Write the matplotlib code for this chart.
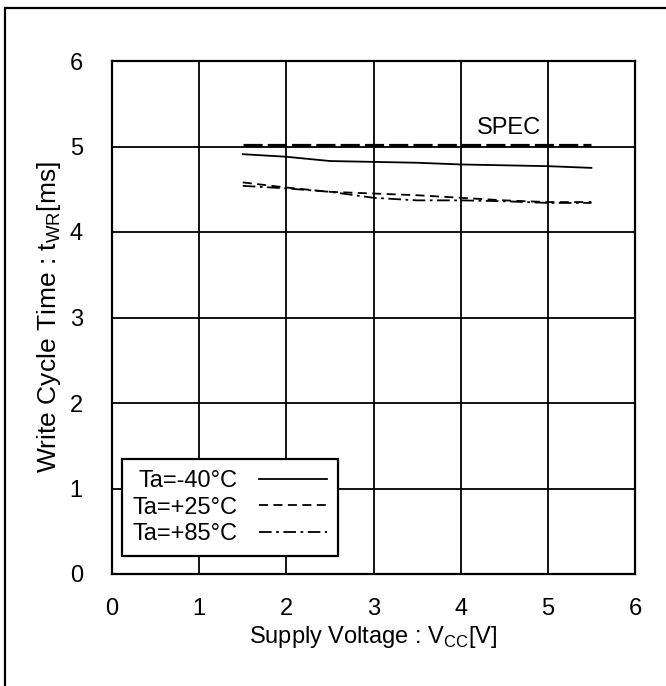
import numpy as np
import matplotlib.pyplot as plt
from matplotlib.patches import Rectangle

plt.rcParams['font.family'] = ['Liberation Sans', 'DejaVu Sans']
plt.rcParams['mathtext.fontset'] = 'custom'
plt.rcParams['mathtext.rm'] = 'Liberation Sans'

# ----------------------------
# Data
# ----------------------------
vcc = [1.5, 2.0, 2.5, 3.0, 3.5, 4.0, 4.5, 5.0, 5.5]
t_m40 = [4.91, 4.88, 4.83, 4.82, 4.81, 4.79, 4.78, 4.77, 4.75]
t_p25 = [4.58, 4.52, 4.47, 4.45, 4.43, 4.40, 4.37, 4.35, 4.35]
t_p85 = [4.54, 4.51, 4.47, 4.40, 4.37, 4.37, 4.36, 4.34, 4.34]
spec_x = [1.5, 5.5]
spec_y = [5.02, 5.02]
labels = ["Ta=-40°C", "Ta=+25°C", "Ta=+85°C"]
ticks = [0, 1, 2, 3, 4, 5, 6]

# ----------------------------
# Figure
# ----------------------------
fig = plt.figure(figsize=(6.66, 6.86), dpi=100)
# outer frame, cut off on the right and bottom
fig.patches.append(Rectangle((5 / 666, -0.05), 1.1, (686 - 8) / 686 + 0.05,
                             transform=fig.transFigure, fill=False,
                             edgecolor="black", linewidth=1.6))

ax = fig.add_axes([112 / 666, (686 - 574) / 686, (635 - 112) / 666, (574 - 61) / 686])

ax.plot(spec_x, spec_y, color="black", linestyle=(0, (6, 1.6)), linewidth=2.3)
l1, = ax.plot(vcc, t_m40, color="black", linestyle="-", linewidth=1.3)
l2, = ax.plot(vcc, t_p25, color="black", linestyle=(0, (5, 3)), linewidth=1.3)
l3, = ax.plot(vcc, t_p85, color="black", linestyle=(0, (7, 2.5, 1.5, 2.5)), linewidth=1.3)

ax.text(4.55, 5.22, "SPEC", fontsize=17, ha="center", va="center")

ax.set_xlim(0, 6)
ax.set_ylim(0, 6)
ax.set_xticks(ticks)
ax.set_yticks(ticks)
ax.grid(True, color="black", linewidth=1.3)
ax.tick_params(length=0, labelsize=17)
ax.tick_params(axis="x", pad=17)
ax.tick_params(axis="y", pad=21)
for s in ax.spines.values():
    s.set_linewidth(1.6)

ax.set_xlabel(r"Supply Voltage : V$_\mathregular{CC}$[V]", fontsize=17, labelpad=3)
ax.set_ylabel(r"Write Cycle Time : t$_\mathregular{WR}$[ms]", fontsize=19, labelpad=5)

leg = ax.legend([l1, l2, l3], labels, loc="lower left", bbox_to_anchor=(0.019, 0.035),
                markerfirst=False, fontsize=17, frameon=True, fancybox=False,
                handlelength=2.9, handletextpad=0.9, labelspacing=0.2,
                borderpad=0.45, borderaxespad=0)
leg.get_frame().set_edgecolor("black")
leg.get_frame().set_linewidth(1.6)
leg.get_frame().set_alpha(1)

fig.savefig("out.png", dpi=100)
